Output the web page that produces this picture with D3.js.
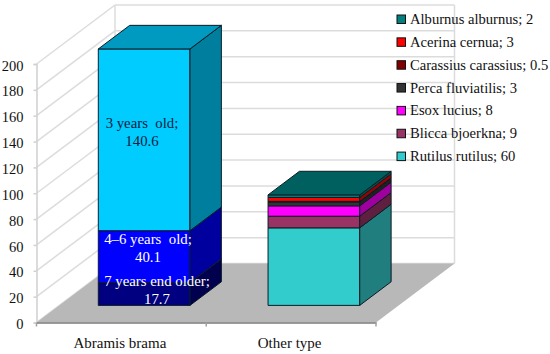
<!DOCTYPE html>
<html>
<head>
<meta charset="utf-8">
<script src="https://cdn.jsdelivr.net/npm/d3@7"></script>
<style>
  html, body { margin: 0; padding: 0; background: #fff; }
  svg { display: block; }
  text { font-family: "Liberation Serif", serif; }
</style>
</head>
<body>
<svg></svg>
<script>
const categories = ["Abramis brama", "Other type"];

// stacked bottom to top
const abramisNames = ["7 years end older", "4–6 years  old", "3 years  old"];
const abramisValues = [17.7, 40.1, 140.6];
const abramisColors = ["#000080", "#0000ff", "#00ccff"];

const otherNames = ["Rutilus rutilus", "Blicca bjoerkna", "Esox lucius", "Perca fluviatilis", "Carassius carassius", "Acerina cernua", "Alburnus alburnus"];
const otherValues = [60, 9, 8, 3, 0.5, 3, 2];
const otherColors = ["#33cccc", "#993366", "#ff00ff", "#333333", "#800000", "#ff0000", "#008080"];

const yTicks = [0, 20, 40, 60, 80, 100, 120, 140, 160, 180, 200];

let width = 550;
let height = 354;

let svg = d3.select("svg").attr("width", width).attr("height", height);

let xScale = d3.scaleBand().domain(categories).range([36.5, 376]);
let yScale = d3.scaleLinear().domain([0, 200]).range([322.5, 64]);

// how far the back wall sits from the front of the chart
let depthX = 78.5;
let depthY = -59;
let barDepthStart = 0.29;
let barDepthEnd = 0.69;
let barShare = 0.54;

let project = (x, value, depth) => {
  return [x + depthX * depth, yScale(value) + depthY * depth];
};
let pathOf = (points) => "M" + points.map((p) => p.join(",")).join("L") + "Z";

let shade = (color, k) => {
  let c = d3.rgb(color);
  return d3.rgb(c.r * k, c.g * k, c.b * k).formatHex();
};

let drawWalls = () => {
  let xLeft = 36.5;
  let xRight = 376;
  let walls = svg.append("g").attr("stroke", "#dcdcdc").attr("stroke-width", 1.5).attr("fill", "none");

  walls.selectAll(".side")
    .data(yTicks)
    .enter()
    .append("path")
    .attr("d", (d) => {
      let a = project(xLeft, d, 0);
      let b = project(xLeft, d, 1);
      return "M" + a + "L" + b;
    });
  walls.selectAll(".back")
    .data(yTicks)
    .enter()
    .append("path")
    .attr("d", (d) => {
      let a = project(xLeft, d, 1);
      let b = project(xRight, d, 1);
      return "M" + a + "L" + b;
    });
  // wall corners
  walls.append("path").attr("d", "M" + project(xLeft, 0, 1) + "L" + project(xLeft, 200, 1));
  walls.append("path").attr("d", "M" + project(xRight, 0, 1) + "L" + project(xRight, 200, 1));

  // floor
  svg.append("path")
    .attr("fill", "#b8b8b8")
    .attr("d", pathOf([
      project(xLeft, 0, 0),
      project(xRight, 0, 0),
      project(xRight, 0, 1),
      project(xLeft, 0, 1),
    ]));
};

let drawAxes = () => {
  let yAxis = d3.axisLeft(yScale).tickValues(yTicks).tickSize(3).tickPadding(10);
  let yG = svg.append("g").attr("transform", "translate(36.5,0)").call(yAxis);
  yG.select(".domain").attr("stroke", "#d0d0d0").attr("stroke-width", 1.5);
  yG.selectAll("line").attr("stroke", "#d0d0d0").attr("stroke-width", 1.5);
  yG.selectAll("text")
    .attr("dy", "0.42em")
    .attr("font-family", "Liberation Serif")
    .attr("font-size", 14.5)
    .attr("fill", "#111");

  let xAxis = d3.axisBottom(xScale).tickSize(0).tickPadding(15);
  let xG = svg.append("g").attr("transform", "translate(0,322.5)").call(xAxis);
  xG.select(".domain").attr("stroke", "#7a7a7a").attr("stroke-width", 1.5);
  xG.selectAll("text")
    .attr("x", -1.5)
    .attr("font-family", "Liberation Serif")
    .attr("font-size", 15)
    .attr("fill", "#111");

  // ticks between the categories
  let edges = categories.map((c) => xScale(c)).concat([xScale.range()[1]]);
  xG.selectAll(".edge")
    .data(edges)
    .enter()
    .append("line")
    .attr("x1", (d) => d)
    .attr("x2", (d) => d)
    .attr("y1", 0)
    .attr("y2", 4)
    .attr("stroke", "#a0a0a0")
    .attr("stroke-width", 1.5);
};

let drawBar = (category, values, colors) => {
  let bw = xScale.bandwidth() * barShare;
  let x0 = xScale(category) + (xScale.bandwidth() - bw) / 2;
  let x1 = x0 + bw;
  let stroke = "#0c1c24";
  let g = svg.append("g").attr("stroke", stroke).attr("stroke-width", 1);
  let sum = 0;

  values.forEach((v, i) => {
    let low = sum;
    let high = sum + v;
    sum = high;
    // front face
    g.append("path")
      .attr("fill", colors[i])
      .attr("d", pathOf([
        project(x0, low, barDepthStart),
        project(x1, low, barDepthStart),
        project(x1, high, barDepthStart),
        project(x0, high, barDepthStart),
      ]));
    // right face
    g.append("path")
      .attr("fill", shade(colors[i], 0.62))
      .attr("d", pathOf([
        project(x1, low, barDepthStart),
        project(x1, low, barDepthEnd),
        project(x1, high, barDepthEnd),
        project(x1, high, barDepthStart),
      ]));
  });

  // top face takes the last colour
  g.append("path")
    .attr("fill", shade(colors[colors.length - 1], 0.75))
    .attr("d", pathOf([
      project(x0, sum, barDepthStart),
      project(x1, sum, barDepthStart),
      project(x1, sum, barDepthEnd),
      project(x0, sum, barDepthEnd),
    ]));
};

let drawBarLabels = () => {
  // label centres, indexed like abramisValues
  let labelX = [157, 148, 142];
  let labelY = [286, 244, 128];
  let labelFill = ["#fff", "#fff", "#0b2040"];

  let labels = svg.append("g")
    .attr("font-size", 14.8)
    .attr("text-anchor", "middle")
    .selectAll("text")
    .data(abramisValues)
    .enter()
    .append("text")
    .attr("fill", (d, i) => labelFill[i]);

  labels.append("tspan")
    .attr("x", (d, i) => labelX[i])
    .attr("y", (d, i) => labelY[i])
    .style("white-space", "pre")
    .text((d, i) => abramisNames[i] + ";");
  labels.append("tspan")
    .attr("x", (d, i) => labelX[i])
    .attr("y", (d, i) => labelY[i] + 18)
    .text((d) => d);
};

let drawLegend = () => {
  // legend lists the stack from the top down
  let names = otherNames.slice().reverse();
  let vals = otherValues.slice().reverse();
  let cols = otherColors.slice().reverse();

  let row = svg.append("g")
    .selectAll("g")
    .data(names)
    .enter()
    .append("g")
    .attr("transform", (d, i) => "translate(397," + (19 + i * 22.85) + ")");

  row.append("rect")
    .attr("x", 0)
    .attr("y", -4)
    .attr("width", 8.5)
    .attr("height", 8.5)
    .attr("fill", (d, i) => cols[i])
    .attr("stroke", "#111")
    .attr("stroke-width", 1);

  row.append("text")
    .attr("x", 13)
    .attr("y", 5)
    .attr("font-size", 14.6)
    .attr("fill", "#111")
    .text((d, i) => d + "; " + vals[i]);
};

drawWalls();
drawAxes();
drawBar(categories[0], abramisValues, abramisColors);
drawBar(categories[1], otherValues, otherColors);
drawBarLabels();
drawLegend();
</script>
</body>
</html>
